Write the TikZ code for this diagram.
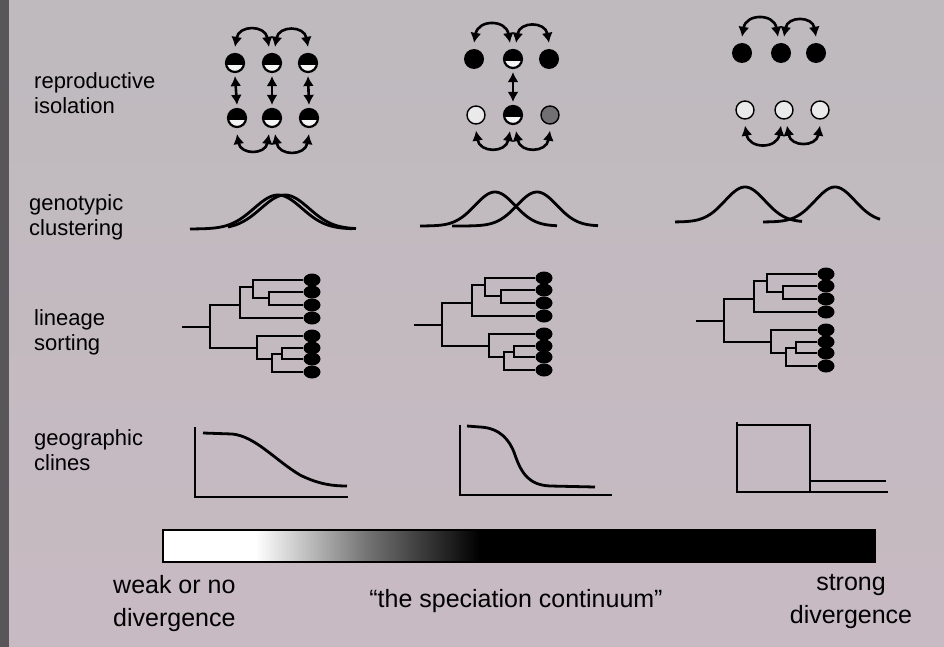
\documentclass[tikz,border=0pt]{standalone}
\usepackage{fontspec}
\setmainfont{Liberation Sans}
\usetikzlibrary{arrows.meta}
\usetikzlibrary{shapes.geometric}

\definecolor{paper}{RGB}{190,186,190}
\definecolor{paperlow}{RGB}{200,186,194}
\definecolor{edge}{RGB}{88,86,88}

\tikzset{
    tag/.style={anchor=west, align=left, inner sep=0pt, font=\fontsize{22}{25}\selectfont},
    caption/.style={align=center, inner sep=0pt, font=\fontsize{25}{33}\selectfont},
    fulldot/.style={circle, fill=black, minimum size=20pt, inner sep=0pt},
    halfdot/.style={circle, draw=black, line width=2.2pt, fill=white!85!paper, minimum size=18pt, inner sep=0pt,
        path picture={\fill[black] ([yshift=-2pt]path picture bounding box.west) rectangle (path picture bounding box.north east);}},
    opendot/.style={circle, draw=black, line width=1.4pt, fill=white!70!paper, minimum size=18pt, inner sep=0pt},
    greydot/.style={circle, draw=black, line width=1.4pt, fill=black!40!paper, minimum size=18pt, inner sep=0pt},
    swing/.style={line width=2.6pt, {Latex[length=10pt,width=11pt]}-{Latex[length=10pt,width=11pt]}},
    bell/.style={line width=2.8pt, line join=round, smooth},
    axis/.style={line width=1.6pt},
    cline/.style={line width=2.8pt},
    leaf/.style={ellipse, fill=black, minimum width=17pt, minimum height=13pt, inner sep=0pt},
    branch/.style={line width=1.6pt},
    declare function={gauss(\x,\m,\s)=exp(-0.5*((\x-\m)/\s)*((\x-\m)/\s));}
}

\begin{document}
\begin{tikzpicture}[x=1pt, y=-1pt]
    \useasboundingbox (0,0) rectangle (944,647);
    \shade[top color=paper, bottom color=paperlow] (0,0) rectangle (944,647);
    \fill[edge] (0,0) rectangle (9,647);

    % row labels
    \node (repro) [tag] at (34,93) {reproductive\\isolation};
    \node (geno) [tag] at (29,217) {genotypic\\clustering};
    \node (lineage) [tag] at (34,332) {lineage\\sorting};
    \node (geog) [tag] at (34,450) {geographic\\clines};

    % reproductive isolation
    \node (ta1) [halfdot] at (235,63) {};
    \node (ta2) [halfdot] at (272,63) {};
    \node (ta3) [halfdot] at (308,63) {};
    \node (ba1) [halfdot] at (237,118) {};
    \node (ba2) [halfdot] at (272,118) {};
    \node (ba3) [halfdot] at (309,118) {};
    \draw[swing] ([yshift=6pt]ta1.north) to[bend left=80, looseness=1.7] ([xshift=-3pt, yshift=6pt]ta2.north);
    \draw[swing] ([xshift=3pt, yshift=6pt]ta2.north) to[bend left=80, looseness=1.7] ([yshift=6pt]ta3.north);
    \draw[swing] ([yshift=-6pt]ba1.south) to[bend right=80, looseness=1.7] ([xshift=-3pt, yshift=-6pt]ba2.south);
    \draw[swing] ([xshift=3pt, yshift=-6pt]ba2.south) to[bend right=80, looseness=1.7] ([yshift=-6pt]ba3.south);
    \draw[swing] ([yshift=-3pt]ta1.south) -- ([yshift=3pt]ba1.north);
    \draw[swing] ([yshift=-3pt]ta2.south) -- ([yshift=3pt]ba2.north);
    \draw[swing] ([yshift=-3pt]ta3.south) -- ([yshift=3pt]ba3.north);

    \node (tb1) [fulldot] at (474,59) {};
    \node (tb2) [halfdot] at (513,59) {};
    \node (tb3) [fulldot] at (549,59) {};
    \node (bb1) [opendot] at (476,115) {};
    \node (bb2) [halfdot] at (513,115) {};
    \node (bb3) [greydot] at (550,115) {};
    \draw[swing] ([yshift=6pt]tb1.north) to[bend left=80, looseness=1.7] ([xshift=-3pt, yshift=6pt]tb2.north);
    \draw[swing] ([xshift=3pt, yshift=6pt]tb2.north) to[bend left=80, looseness=1.7] ([yshift=6pt]tb3.north);
    \draw[swing] ([yshift=-6pt]bb1.south) to[bend right=80, looseness=1.7] ([xshift=-3pt, yshift=-6pt]bb2.south);
    \draw[swing] ([xshift=3pt, yshift=-6pt]bb2.south) to[bend right=80, looseness=1.7] ([yshift=-6pt]bb3.south);
    \draw[swing] ([yshift=-3pt]tb2.south) -- ([yshift=3pt]bb2.north);

    \node (tc1) [fulldot] at (742,53) {};
    \node (tc2) [fulldot] at (781,53) {};
    \node (tc3) [fulldot] at (816,53) {};
    \node (bc1) [opendot] at (745,110) {};
    \node (bc2) [opendot] at (784,110) {};
    \node (bc3) [opendot] at (820,110) {};
    \draw[swing] ([yshift=6pt]tc1.north) to[bend left=80, looseness=1.7] ([xshift=-3pt, yshift=6pt]tc2.north);
    \draw[swing] ([xshift=3pt, yshift=6pt]tc2.north) to[bend left=80, looseness=1.7] ([yshift=6pt]tc3.north);
    \draw[swing] ([yshift=-6pt]bc1.south) to[bend right=80, looseness=1.7] ([xshift=-3pt, yshift=-6pt]bc2.south);
    \draw[swing] ([xshift=3pt, yshift=-6pt]bc2.south) to[bend right=80, looseness=1.7] ([yshift=-6pt]bc3.south);

    % genotypic clustering
    \draw[bell] plot[domain=190:352, samples=70] (\x, {229 - 34*gauss(\x,278,24)});
    \draw[bell] plot[domain=228:356, samples=70] (\x, {229 - 34*gauss(\x,285,24)});
    \draw[bell] plot[domain=420:557, samples=70] (\x, {226 - 34*gauss(\x,495,20)});
    \draw[bell] plot[domain=452:598, samples=70] (\x, {226 - 34*gauss(\x,537,20)});
    \draw[bell] plot[domain=675:802, samples=70] (\x, {222 - 35*gauss(\x,745,20)});
    \draw[bell] plot[domain=763:880, samples=70] (\x, {222 - 35*gauss(\x,835,20)});

    % lineage sorting
    \foreach \dx/\dy in {0/0, 232/-2, 514/-6} {
        \begin{scope}[shift={(\dx,\dy)}]
            \node (l1) [leaf] at (312,280) {};
            \node (l2) [leaf] at (312,292) {};
            \node (l3) [leaf] at (312,305) {};
            \node (l4) [leaf] at (312,318) {};
            \node (l5) [leaf] at (312,336) {};
            \node (l6) [leaf] at (312,348) {};
            \node (l7) [leaf] at (312,359) {};
            \node (l8) [leaf] at (312,372) {};
            \draw[branch] (182,327) -- (210,327);
            \draw[branch] (240,305) -| (210,348) -- (257,348);
            \draw[branch] (253,287) -| (240,318) -- (l4.west);
            \draw[branch] (l1.west) -| (253,298) -- (269,298);
            \draw[branch] (l2.west) -| (269,305) -- (l3.west);
            \draw[branch] (l5.west) -| (257,359) -- (272,359);
            \draw[branch] (282,354) -| (272,372) -- (l8.west);
            \draw[branch] (l6.west) -| (282,359) -- (l7.west);
        \end{scope}
    }

    % geographic clines
    \draw[axis] (195,427) -- (195,497) -- (348,497);
    \draw[cline] (203,433) -- (232,434) .. controls (255,436) and (275,460) .. (300,475) .. controls (320,485) and (335,486) .. (347,486);
    \draw[axis] (460,425) -- (460,495) -- (612,495);
    \draw[cline] (467,426) -- (480,427) .. controls (500,428) and (510,440) .. (515,455) .. controls (522,475) and (530,485) .. (550,486) -- (595,487);
    \draw[axis] (737,422) -- (737,492) -- (888,492);
    \draw[cline] (737,425) -- (810,425) -- (810,492);
    \draw[cline] (810,481) -- (886,481);

    % continuum bar
    \fill[white] (163,530) rectangle (255,562);
    \shade[left color=white, right color=black, middle color=black!55] (255,530) rectangle (480,562);
    \fill[black] (479,530) rectangle (875,562);
    \draw[line width=1.6pt] (163,530) rectangle (875,562);

    \node (weak) [caption, anchor=west, align=left] at (113,604) {weak or no\\divergence};
    \node (continuum) [caption] at (516,601) {“the speciation continuum”};
    \node (strong) [caption] at (851,602) {strong\\divergence};
\end{tikzpicture}
\end{document}
